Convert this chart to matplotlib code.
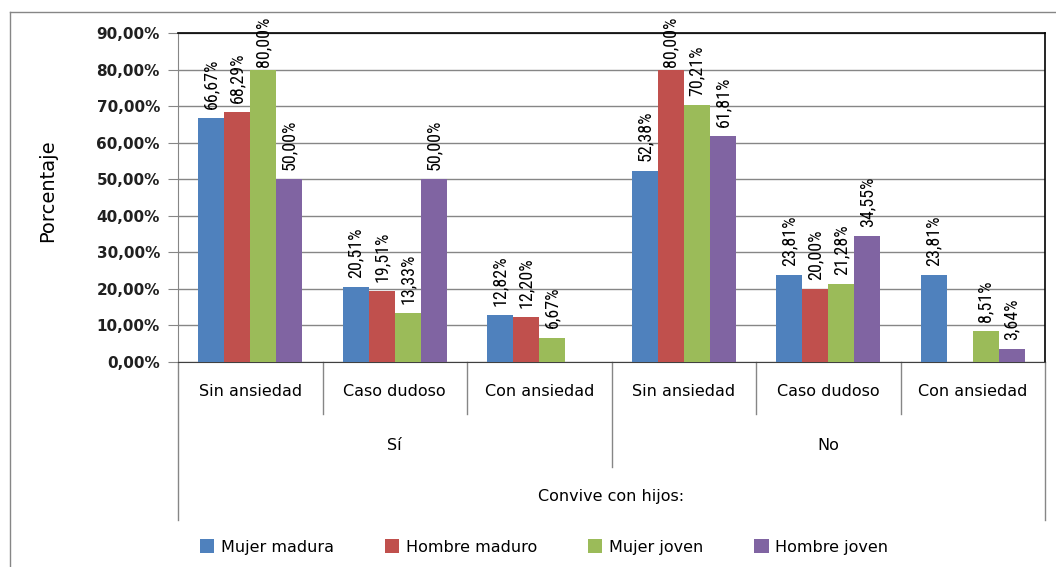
import numpy as np
import matplotlib
matplotlib.use("Agg")
import matplotlib.pyplot as plt
from matplotlib.lines import Line2D
from matplotlib import font_manager

# data (NaN = no bar)
categorias = ['Sin ansiedad', 'Caso dudoso', 'Con ansiedad',
              'Sin ansiedad', 'Caso dudoso', 'Con ansiedad']
grupos = ['Sí', 'No']
series = ['Mujer madura', 'Hombre maduro', 'Mujer joven', 'Hombre joven']
mujer_madura = [66.67, 20.51, 12.82, 52.38, 23.81, 23.81]
hombre_maduro = [68.29, 19.51, 12.20, 80.00, 20.00, np.nan]
mujer_joven = [80.00, 13.33, 6.67, 70.21, 21.28, 8.51]
hombre_joven = [50.00, 50.00, np.nan, 61.81, 34.55, 3.64]
colores = ['#4F81BD', '#C0504D', '#9BBB59', '#8064A2']
yticks = [0, 10, 20, 30, 40, 50, 60, 70, 80, 90]

# narrow font for the value labels if one is installed
nombres = set(f.name for f in font_manager.fontManager.ttflist)
narrow = None
for cand in ['Liberation Sans Narrow', 'DejaVu Sans Condensed', 'Roboto Condensed']:
    if cand in nombres:
        narrow = cand
        break
lab_fs = 13 if narrow else 10
lab_family = [narrow, 'DejaVu Sans'] if narrow else ['DejaVu Sans']

W, H = 1056, 567
fig = plt.figure(figsize=(W / 100, H / 100), dpi=100)

# plot area in pixels: x 178..1045, y 33..362
x0, x1, ytop, ybot = 178, 1045, 33, 362
ax = fig.add_axes([x0 / W, (H - ybot) / H, (x1 - x0) / W, (ybot - ytop) / H])

# outer chart border (left + top visible)
fig.add_artist(Line2D([10 / W, 10 / W], [0, 1 - 12 / H], color='#868686', lw=1))
fig.add_artist(Line2D([10 / W, 1], [1 - 12 / H, 1 - 12 / H], color='#868686', lw=1))

x = np.arange(len(categorias))
w = 0.18
datos = [mujer_madura, hombre_maduro, mujer_joven, hombre_joven]
for i, (vals, col, name) in enumerate(zip(datos, colores, series)):
    pos = x + (i - 1.5) * w
    ax.bar(pos, vals, w, color=col, label=name, zorder=3)
    for px, v in zip(pos, vals):
        if np.isnan(v):
            continue
        pad = 0.8 if v >= 79 else 2.5
        ax.text(px, v + pad, ('%.2f%%' % v).replace('.', ','), rotation=90,
                ha='center', va='bottom', fontsize=lab_fs, clip_on=False,
                family=lab_family, zorder=4)

ax.set_xlim(-0.5, 5.5)
ax.set_ylim(0, 90)
ax.set_yticks(yticks)
ax.set_yticklabels(['%d,00%%' % t for t in yticks], fontsize=11, fontweight='bold',
                   color='#202020')
ax.yaxis.grid(True, color='#868686', lw=1, zorder=0)
ax.tick_params(axis='y', length=7, color='#868686', pad=6)
ax.set_xticks([])

for s in ['top', 'right']:
    ax.spines[s].set_color('black')
    ax.spines[s].set_linewidth(1.2)
ax.spines['left'].set_color('#868686')
ax.spines['bottom'].set_color('#404040')

ax.set_ylabel('Porcentaje', fontsize=14, labelpad=10)
ax.yaxis.set_label_coords((57 - x0) / (x1 - x0), 0.52)

# category / group divider lines under the axis
ph = ybot - ytop
tr = ax.get_xaxis_transform()
def drop(xd, ypix):
    ax.plot([xd, xd], [0, -(ypix - ybot) / ph], transform=tr, color='#868686',
            lw=1, clip_on=False)
for xd in [0.5, 1.5, 3.5, 4.5]:
    drop(xd, 414)
drop(2.5, 467)
drop(-0.5, 520)
drop(5.5, 520)

for xi, c in zip(x, categorias):
    ax.text(xi, -(392 - ybot) / ph, c, transform=tr, ha='center', va='center',
            fontsize=11.5)
for gi, g in enumerate(grupos):
    ax.text(1 + 3 * gi, -(445 - ybot) / ph, g, transform=tr, ha='center',
            va='center', fontsize=11.5)
ax.text(2.5, -(497 - ybot) / ph, 'Convive con hijos:', transform=tr, ha='center',
        va='center', fontsize=11.5)

fig.legend(loc='center', bbox_to_anchor=(544 / W, 1 - 547 / H), ncol=4,
           frameon=False, fontsize=11.5, handlelength=0.9, handleheight=0.9,
           handletextpad=0.4, columnspacing=3.2)

fig.savefig('out.png', dpi=100)
